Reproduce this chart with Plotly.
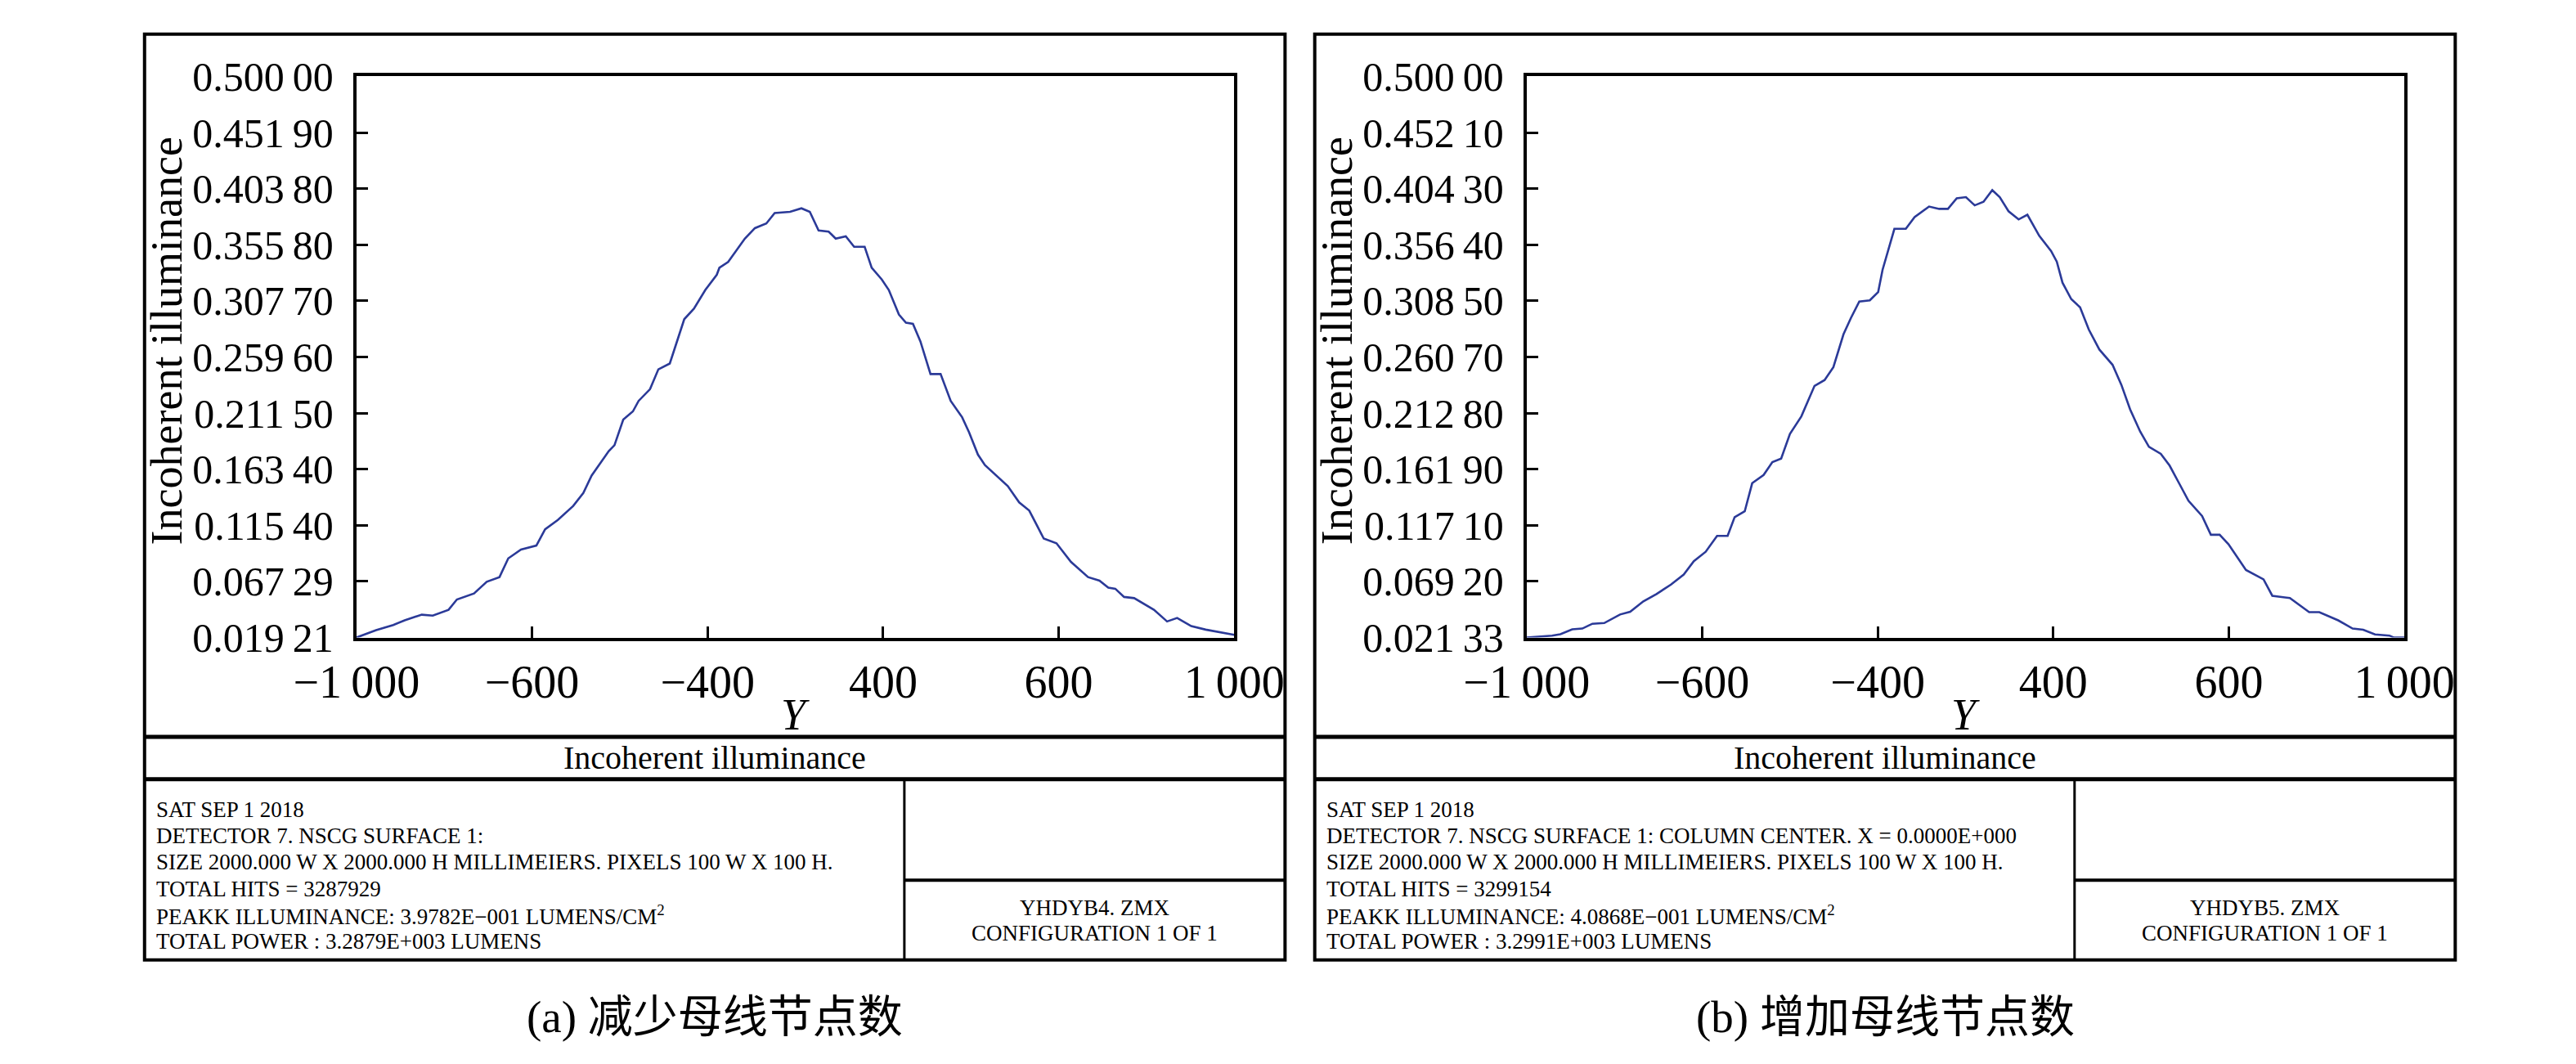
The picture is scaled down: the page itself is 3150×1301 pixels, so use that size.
import plotly.graph_objects as go

W, H = 3150, 1301

# panel (a): 减少母线节点数
y_pos_a = [-1000, -955, -916, -890, -851, -826, -790, -771, -732, -703,
           -674, -654, -625, -590, -570, -541, -506, -483, -464, -444,
           -425, -412, -392, -370, -357, -331, -312, -286, -276, -253,
           -231, -205, -179, -173, -153, -115, -92, -66, -47, -12,
           14, 33, 53, 76, 92, 115, 134, 158, 174, 197,
           213, 236, 252, 268, 285, 308, 331, 354, 380, 396,
           416, 432, 484, 510, 533, 566, 595, 628, 667, 693,
           713, 729, 749, 772, 817, 847, 870, 902, 935, 961,
           994, 1000]
illum_a = [0.0192, 0.0255, 0.030, 0.034, 0.0388, 0.038, 0.043, 0.0518, 0.057, 0.067,
           0.071, 0.087, 0.0946, 0.098, 0.112, 0.120, 0.132, 0.143, 0.158, 0.169,
           0.179, 0.184, 0.206, 0.213, 0.222, 0.232, 0.249, 0.254, 0.266, 0.292,
           0.301, 0.317, 0.330, 0.336, 0.341, 0.361, 0.370, 0.374, 0.383, 0.384,
           0.387, 0.384, 0.368, 0.367, 0.361, 0.363, 0.354, 0.354, 0.336, 0.326,
           0.317, 0.296, 0.289, 0.288, 0.273, 0.245, 0.245, 0.222, 0.208, 0.195,
           0.176, 0.167, 0.149, 0.135, 0.128, 0.104, 0.100, 0.084, 0.071, 0.068,
           0.062, 0.061, 0.054, 0.053, 0.043, 0.033, 0.036, 0.029, 0.026, 0.024,
           0.022, 0.0215]

# panel (b): 增加母线节点数
y_pos_b = [-1000, -942, -923, -896, -873, -850, -823, -787, -764, -734,
           -704, -671, -642, -619, -592, -566, -542, -526, -503, -486,
           -460, -440, -420, -400, -374, -344, -321, -301, -278, -261,
           -242, -218, -199, -189, -162, -136, -116, -83, -60, -40,
           -20, 1, 21, 41, 61, 78, 98, 121, 141, 168,
           195, 208, 221, 241, 261, 281, 305, 335, 355, 375,
           398, 418, 445, 465, 488, 508, 539, 559, 579, 599,
           639, 679, 699, 739, 783, 806, 849, 882, 906, 933,
           966, 976, 1000]
illum_b = [0.0213, 0.0229, 0.0242, 0.0283, 0.0290, 0.0331, 0.0337, 0.0410, 0.0433, 0.0522,
           0.0585, 0.0665, 0.0751, 0.0865, 0.0945, 0.108, 0.108, 0.124, 0.129, 0.153,
           0.160, 0.171, 0.174, 0.195, 0.210, 0.236, 0.241, 0.252, 0.280, 0.294,
           0.308, 0.309, 0.316, 0.335, 0.370, 0.370, 0.380, 0.389, 0.387, 0.387,
           0.396, 0.397, 0.390, 0.393, 0.403, 0.397, 0.385, 0.378, 0.382, 0.364,
           0.351, 0.342, 0.324, 0.310, 0.303, 0.284, 0.267, 0.254, 0.237, 0.216,
           0.197, 0.184, 0.178, 0.168, 0.152, 0.138, 0.125, 0.109, 0.109, 0.101,
           0.079, 0.071, 0.057, 0.055, 0.043, 0.043, 0.036, 0.029, 0.028, 0.024,
           0.023, 0.0213, 0.0213]

TS = '\u2009'  # thin space used for digit grouping
x_tick_vals = [-1000, -600, -200, 200, 600, 1000]
x_tick_text = ['\u22121' + TS + '000', '\u2212600', '\u2212400', '400', '600', '1' + TS + '000']

y_tick_vals_a = [0.01921, 0.06729, 0.11540, 0.16340, 0.21150, 0.25960,
                 0.30770, 0.35580, 0.40380, 0.45190, 0.50000]
y_tick_text_a = ['0.019 21', '0.067 29', '0.115 40', '0.163 40', '0.211 50', '0.259 60',
                 '0.307 70', '0.355 80', '0.403 80', '0.451 90', '0.500 00']
y_tick_vals_b = [0.02133, 0.06920, 0.11710, 0.16490, 0.21280, 0.26070,
                 0.30850, 0.35640, 0.40430, 0.45210, 0.50000]
y_tick_text_b = ['0.021 33', '0.069 20', '0.117 10', '0.161 90', '0.212 80', '0.260 70',
                 '0.308 50', '0.356 40', '0.404 30', '0.452 10', '0.500 00']

info_a = ['SAT SEP 1 2018',
          'DETECTOR 7. NSCG SURFACE 1:',
          'SIZE 2000.000 W X 2000.000 H MILLIMEIERS. PIXELS 100 W X 100 H.',
          'TOTAL HITS = 3287929',
          'PEAKK ILLUMINANCE: 3.9782E\u2212001 LUMENS/CM<sup>2</sup>',
          'TOTAL POWER : 3.2879E+003 LUMENS']
info_b = ['SAT SEP 1 2018',
          'DETECTOR 7. NSCG SURFACE 1: COLUMN CENTER. X = 0.0000E+000',
          'SIZE 2000.000 W X 2000.000 H MILLIMEIERS. PIXELS 100 W X 100 H.',
          'TOTAL HITS = 3299154',
          'PEAKK ILLUMINANCE: 4.0868E\u2212001 LUMENS/CM<sup>2</sup>',
          'TOTAL POWER : 3.2991E+003 LUMENS']
file_a = ['YHDYB4. ZMX', 'CONFIGURATION 1 OF 1']
file_b = ['YHDYB5. ZMX', 'CONFIGURATION 1 OF 1']
captions = ['(a) 减少母线节点数', '(b) 增加母线节点数']

SERIF = 'Liberation Serif, Times New Roman, Noto Sans CJK SC, serif'
LINE = '#2b3a98'


def px(x):
    return x / W


def py(y):
    return 1 - y / H


fig = go.Figure()
fig.add_trace(go.Scatter(x=y_pos_a, y=illum_a, mode='lines', xaxis='x', yaxis='y',
                         line=dict(color=LINE, width=2.6), showlegend=False))
fig.add_trace(go.Scatter(x=y_pos_b, y=illum_b, mode='lines', xaxis='x2', yaxis='y2',
                         line=dict(color=LINE, width=2.6), showlegend=False))

offsets = [0, 1497]
plot_left, plot_right, plot_top, plot_bot = 367, 1490, 60, 777

axis_common = dict(showline=True, mirror=True, linecolor='black', linewidth=4,
                   ticks='inside', ticklen=14, tickwidth=3, tickcolor='black',
                   showgrid=False, zeroline=False)

layout = dict(width=W, height=H, margin=dict(l=0, r=0, t=0, b=0),
              paper_bgcolor='white', plot_bgcolor='white', showlegend=False)
for i, (o, yv, yt) in enumerate(zip(offsets, [y_tick_vals_a, y_tick_vals_b],
                                      [y_tick_text_a, y_tick_text_b])):
    sfx = '' if i == 0 else str(i + 1)
    yt = [t.replace(' ', TS) for t in yt]
    layout['xaxis' + sfx] = dict(domain=[px(plot_left + o), px(plot_right + o)],
                                 range=[-1000, 1000], anchor='y' + sfx,
                                 tickvals=x_tick_vals, ticktext=x_tick_text,
                                 ticklabelstandoff=2,
                                 tickfont=dict(family=SERIF, size=56, color='black'),
                                 **axis_common)
    layout['yaxis' + sfx] = dict(domain=[py(plot_bot), py(plot_top)],
                                 range=[yv[0], yv[-1]], anchor='x' + sfx,
                                 tickvals=yv, ticktext=yt,
                                 ticklabelstandoff=14,
                                 tickfont=dict(family=SERIF, size=50, color='black'),
                                 **axis_common)
fig.update_layout(**layout)

shapes = []
annotations = []


def hline(y, x0, x1, w):
    shapes.append(dict(type='line', xref='paper', yref='paper', x0=px(x0), x1=px(x1),
                       y0=py(y), y1=py(y), line=dict(color='black', width=w)))


def vline(x, y0, y1, w):
    shapes.append(dict(type='line', xref='paper', yref='paper', x0=px(x), x1=px(x),
                       y0=py(y0), y1=py(y1), line=dict(color='black', width=w)))


def text(x, y, s, size, anchor='center', angle=0):
    annotations.append(dict(x=px(x), y=py(y), xref='paper', yref='paper', text=s,
                            showarrow=False, xanchor=anchor, yanchor='middle',
                            textangle=angle,
                            font=dict(family=SERIF, size=size, color='black')))


for o, info, fname, cap in zip(offsets, [info_a, info_b], [file_a, file_b], captions):
    left, right = 96 + o, 1555 + o
    shapes.append(dict(type='rect', xref='paper', yref='paper', x0=px(left), x1=px(right),
                       y0=py(1189), y1=py(6), line=dict(color='black', width=4)))
    hline(904, left, right, 5)
    hline(958, left, right, 5)
    vline(1068 + o, 958, 1189, 3)
    hline(1087, 1068 + o, right, 4)

    text(124 + o, 398, 'Incoherent illuminance', 54, angle=-90)
    text((plot_left + plot_right) / 2 + o, 876, '<i>Y</i>', 54)
    text((left + right) / 2, 931, 'Incoherent illuminance', 40)
    for k, line in enumerate(info):
        text(109 + o, 997 + k * 33.6, line, 27, anchor='left')
    text((1068 + o + right) / 2, 1122, fname[0], 27)
    text((1068 + o + right) / 2, 1155, fname[1], 27)
    text((left + right) / 2, 1262, cap, 55)

fig.update_layout(shapes=shapes, annotations=annotations)

fig.write_html('out.html')
